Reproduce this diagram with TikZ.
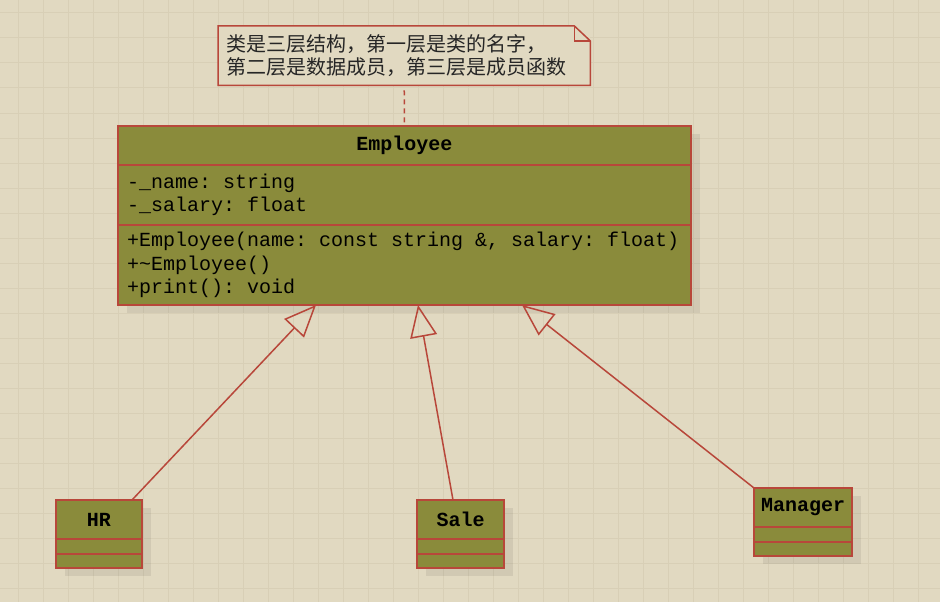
\documentclass[tikz,border=0pt]{standalone}
\usepackage{fontspec}
\setmonofont{Liberation Mono}
\newfontfamily\cjk{Noto Sans CJK SC}
\usepackage{xcolor}
\usepackage{tikz}
\usetikzlibrary{arrows.meta,positioning,shadows}
\definecolor{paper}{HTML}{E1D9C1}
\definecolor{gridc}{HTML}{D8CFB6}
\definecolor{olive}{HTML}{8A8B3B}
\definecolor{umlred}{HTML}{B8473A}

\begin{document}
\begin{tikzpicture}[x=1pt,y=-1pt,font=\ttfamily\fontsize{20}{23.5}\selectfont\frenchspacing,
 c/.style={draw=umlred,fill=olive,line width=1.5pt,outer sep=0pt,inner sep=0pt,
  drop shadow={shadow xshift=9pt,shadow yshift=-8pt,fill=black,opacity=0.07}},
 h/.style={c,font=\ttfamily\bfseries\fontsize{20}{23.5}\selectfont,minimum height=39pt},
 b/.style={c,align=flush left,inner xsep=9pt},
 e/.style={-{Triangle[open,length=32pt,width=27pt]},draw=umlred,line width=1.5pt}]
% background and grid
\fill[paper] (0,0) rectangle (940,602);
\useasboundingbox (0,0) rectangle (940,602);
\foreach \x in {18,43,...,918} \draw[gridc,line width=1pt] (\x,0) -- (\x,602);
\foreach \y in {13,38,...,588} \draw[gridc,line width=1pt] (0,\y) -- (940,\y);
% note
\node[anchor=north west,fill=paper,minimum width=372pt,minimum height=59pt,text width=356pt,
 inner xsep=8pt,inner ysep=0pt,align=flush left,text=black!85,font=\cjk\fontsize{20}{23}\selectfont] (note) at (218,26)
 {类是三层结构，第一层是类的名字，\\第二层是数据成员，第三层是成员函数};
\draw[umlred,line width=1.5pt] (note.north west) -- ([xshift=-16pt]note.north east)
 -- ([yshift=-15pt]note.north east) -- (note.south east) -- (note.south west) -- cycle;
\draw[umlred,line width=1.5pt] ([xshift=-16pt]note.north east) |- ([yshift=-15pt]note.north east);
% classes
\node[h,minimum width=573pt,anchor=north west] (emp) at (118,126) {Employee};
\node[b,text width=555pt,minimum height=60pt,below=0pt of emp] (empattr) {-\_name: string\\-\_salary: float};
\node[b,text width=555pt,minimum height=80pt,below=0pt of empattr] (empops)
 {+Employee(name: const string \&, salary: float)\\+\textasciitilde Employee()\\+print(): void};
\node[h,minimum width=86pt,anchor=north west] (hr) at (56,500) {HR};
\node[c,minimum width=86pt,minimum height=15pt,below=0pt of hr] (hrattr) {};
\node[c,minimum width=86pt,minimum height=14pt,below=0pt of hrattr] (hrops) {};
\node[h,minimum width=87pt,anchor=north west] (sale) at (417,500) {Sale};
\node[c,minimum width=87pt,minimum height=15pt,below=0pt of sale] (saleattr) {};
\node[c,minimum width=87pt,minimum height=14pt,below=0pt of saleattr] (saleops) {};
\node[h,minimum width=98pt,anchor=north west] (mgr) at (754,488) {Manager};
\node[c,minimum width=98pt,minimum height=15pt,below=0pt of mgr] (mgrattr) {};
\node[c,minimum width=98pt,minimum height=14pt,below=0pt of mgrattr] (mgrops) {};
% links
\draw[umlred,line width=1.5pt,dash pattern=on 5pt off 4pt,shorten <=5pt] (note.south) -- (emp.north);
\draw[e] ([xshift=33pt]hr.north) -- ([xshift=-88.5pt]empops.south);
\draw[e] ([xshift=-7.5pt]sale.north) -- ([xshift=13.5pt]empops.south);
\draw[e] (mgr.north west) -- ([xshift=117.5pt]empops.south);
\end{tikzpicture}
\end{document}
